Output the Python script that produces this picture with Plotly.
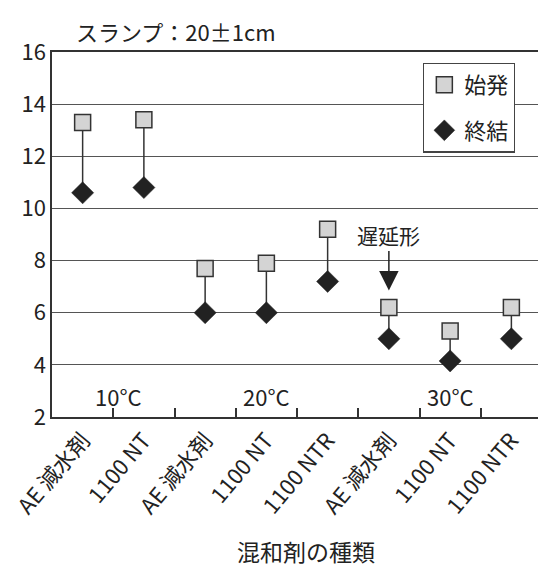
import plotly.graph_objects as go

# ---- data ----
categories = ["AE 減水剤", "1100 NT", "AE 減水剤", "1100 NT", "1100 NTR",
              "AE 減水剤", "1100 NT", "1100 NTR"]
initial_set = [13.3, 13.4, 7.7, 7.9, 9.2, 6.2, 5.3, 6.2]   # 始発
final_set = [10.6, 10.8, 6.0, 6.0, 7.2, 5.0, 4.15, 5.0]    # 終結
temp_groups = ["10°C", "20°C", "30°C"]
group_sizes = [2, 3, 3]
y_ticks = [2, 4, 6, 8, 10, 12, 14, 16]
delayed_index = 5   # 遅延形

FONT = "Noto Sans CJK JP"
TXT = "#222222"
GRID = "#555555"

xs = list(range(len(categories)))

# connector segments between start and end
seg_x, seg_y = [], []
for i in xs:
    seg_x += [i, i, None]
    seg_y += [initial_set[i], final_set[i], None]

fig = go.Figure()
fig.add_trace(go.Scatter(x=seg_x, y=seg_y, mode="lines",
                         line=dict(color="#333333", width=1.5),
                         showlegend=False, hoverinfo="skip"))
fig.add_trace(go.Scatter(x=xs, y=initial_set, mode="markers", name="始発",
                         legendgroup="a",
                         marker=dict(symbol="square", size=16, color="#d4d4d4",
                                     line=dict(color="#333333", width=1.5))))
fig.add_trace(go.Scatter(x=xs, y=final_set, mode="markers", name="終結",
                         legendgroup="b",
                         marker=dict(symbol="diamond", size=17, color="#222222",
                                     line=dict(color="#222222", width=0.5))))

# group labels
annotations = []
start = 0
for g, n in zip(temp_groups, group_sizes):
    center = start + (n - 1) / 2
    if n == 2:
        center += 0.08
    annotations.append(dict(x=center, y=2.82, xref="x", yref="y", text=g,
                            showarrow=False, font=dict(size=22, color=TXT, family=FONT)))
    start += n

# delayed-type arrow
annotations.append(dict(x=delayed_index, y=initial_set[delayed_index] + 0.65,
                        xref="x", yref="y", text="遅延形", showarrow=True,
                        ax=0, ay=-56, arrowhead=2, arrowsize=2.6, arrowwidth=1.5,
                        arrowcolor="#222222",
                        font=dict(size=21, color=TXT, family=FONT)))

# top title
annotations.append(dict(x=0.044, y=1.108, xref="paper", yref="paper",
                        text="スランプ：20±1cm",
                        showarrow=False, xanchor="left", yanchor="top",
                        font=dict(size=22, color=TXT, family=FONT)))
# x-axis title
annotations.append(dict(x=0.518, y=-0.366, xref="paper", yref="paper",
                        text="混和剤の種類", showarrow=False,
                        xanchor="center", yanchor="middle",
                        font=dict(size=23, color=TXT, family=FONT)))

# the page body has an 8px default margin, so margins are reduced accordingly
fig.update_layout(
    width=546, height=571,
    margin=dict(l=44, r=12, t=44, b=162),
    paper_bgcolor="white", plot_bgcolor="white",
    font=dict(family=FONT, size=20, color=TXT),
    xaxis=dict(range=[-0.5, len(categories) - 0.5], tickmode="array",
               tickvals=xs, ticktext=categories, tickangle=-50,
               ticks="", showgrid=False, zeroline=False, automargin=False,
               ticklabeloverflow="allow",
               showline=True, linecolor="#333333", linewidth=1.5, mirror=True,
               minor=dict(tickmode="array", tickvals=[i + 0.5 for i in xs[:-1]],
                          ticks="inside", ticklen=9, tickcolor="#333333", tickwidth=1.5,
                          showgrid=False),
               tickfont=dict(size=22, family=FONT, color=TXT)),
    yaxis=dict(range=[2, 16], tickmode="array", tickvals=y_ticks,
               showgrid=True, gridcolor=GRID, gridwidth=1.3, zeroline=False,
               showline=True, linecolor="#333333", linewidth=1.5, mirror=True,
               automargin=False,
               ticks="", tickfont=dict(size=22, family=FONT, color=TXT)),
    legend=dict(x=0.945, y=0.971, xanchor="right", yanchor="top",
                bgcolor="white", bordercolor="#444444", borderwidth=1.3,
                tracegroupgap=14,
                font=dict(size=22, family=FONT, color=TXT)),
    annotations=annotations,
)

fig.write_html("out.html")
